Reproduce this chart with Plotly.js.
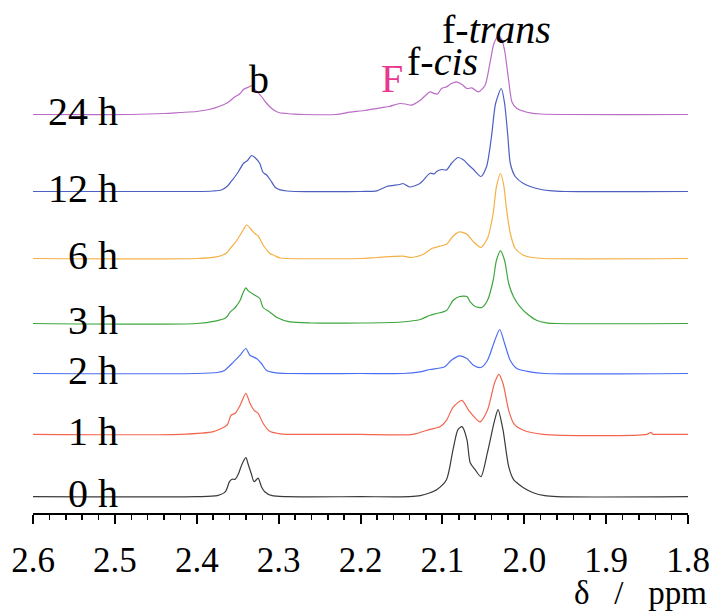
<!DOCTYPE html>
<html>
<head>
<meta charset="utf-8">
<script src="https://cdn.plot.ly/plotly-3.0.1.min.js"></script>
<style>
html,body{margin:0;padding:0;background:#fff;}
#chart svg text{font-family:"Liberation Serif","Times New Roman",Tinos,"DejaVu Serif",serif !important;}
</style>
</head>
<body>
<div id="chart" style="width:716px;height:614px;"></div>
<script>
// ---- Data (chemical shift in ppm, intensity in arbitrary units) ----
const labels = ["0 h", "1 h", "2 h", "3 h", "6 h", "12 h", "24 h"];
const offsets = [16.3, 78.7, 139.5, 189.5, 254.5, 321.5, 398.5];

const ppm0h = [2.60, 2.40, 2.375, 2.365, 2.360, 2.357, 2.353, 2.349, 2.345, 2.340, 2.337, 2.333, 2.330, 2.325, 2.321, 2.317, 2.308, 2.29, 2.20, 2.14, 2.127, 2.115, 2.107, 2.095, 2.087, 2.081, 2.076, 2.070, 2.066, 2.060, 2.053, 2.045, 2.036, 2.032, 2.026, 2.019, 2.013, 2.006, 2.001, 1.989, 1.975, 1.96, 1.80];
const int0h = [0, 0, 1, 5, 15, 17.5, 17.5, 23, 32, 39, 32, 22, 15, 18.5, 10, 5, 1, 0, 0, 0, 1, 4, 7, 17, 47, 67, 70, 57, 34, 27, 20, 44, 77, 87, 67, 30, 17, 12, 9, 4, 1, 0, 0];

const ppm1h = [2.60, 2.42, 2.380, 2.363, 2.358, 2.353, 2.347, 2.340, 2.335, 2.330, 2.325, 2.319, 2.311, 2.30, 2.29, 2.20, 2.136, 2.115, 2.103, 2.095, 2.087, 2.076, 2.068, 2.054, 2.045, 2.036, 2.031, 2.026, 2.019, 2.013, 2.001, 1.977, 1.85, 1.845, 1.843, 1.84, 1.80];
const int1h = [0, 0, 2.7, 9.3, 19.3, 21, 29, 41, 31, 24, 21, 11, 3, 0.7, 0, 0, 0, 5, 7.5, 14, 27, 34, 24, 12.5, 24, 52, 60, 51, 24, 11, 4, 0, 0, 2, 0, 0, 0];

const ppm2h = [2.60, 2.40, 2.375, 2.366, 2.362, 2.357, 2.353, 2.347, 2.340, 2.335, 2.327, 2.321, 2.315, 2.305, 2.29, 2.20, 2.148, 2.127, 2.115, 2.097, 2.089, 2.079, 2.070, 2.062, 2.053, 2.045, 2.036, 2.030, 2.024, 2.017, 2.009, 1.993, 1.975, 1.80];
const int2h = [0, 0, 1, 3, 6, 10, 13.3, 18.3, 25, 18.3, 15, 10, 3.3, 0.8, 0, 0, 0, 1.7, 4, 6.7, 13.3, 17.7, 15, 8.3, 6, 13, 33, 44, 30, 13, 5, 1.7, 0, 0];

const ppm3h = [2.60, 2.40, 2.376, 2.366, 2.363, 2.359, 2.353, 2.347, 2.343, 2.340, 2.337, 2.329, 2.323, 2.319, 2.311, 2.302, 2.286, 2.26, 2.20, 2.15, 2.127, 2.115, 2.107, 2.095, 2.087, 2.079, 2.070, 2.066, 2.060, 2.052, 2.045, 2.038, 2.034, 2.029, 2.024, 2.019, 2.013, 2.005, 1.997, 1.985, 1.973, 1.96, 1.80];
const int3h = [0, 0, 2.7, 5, 7, 11.6, 16, 23.3, 31.6, 35.6, 32.6, 28.3, 25, 16, 11.6, 6, 1.6, 0.5, 0.5, 1.5, 4, 8.3, 10, 13, 23, 27, 27, 21.6, 17, 16, 23, 43, 63, 72.6, 63, 40, 26.6, 16.6, 10, 3.3, 0.7, 0, 0];

const ppm6h = [2.60, 2.40, 2.376, 2.368, 2.363, 2.359, 2.353, 2.347, 2.343, 2.339, 2.333, 2.329, 2.325, 2.319, 2.315, 2.311, 2.304, 2.298, 2.29, 2.20, 2.18, 2.148, 2.138, 2.123, 2.113, 2.103, 2.095, 2.087, 2.079, 2.070, 2.062, 2.053, 2.045, 2.038, 2.034, 2.029, 2.025, 2.022, 2.017, 2.011, 2.001, 1.99, 1.977, 1.80];
const int6h = [0, 0, 1.7, 3.5, 6, 10.2, 15.8, 23.5, 29, 33.5, 28.5, 25, 22.5, 13.5, 9, 5.2, 2.5, 0.5, 0, 0, 1, 2.3, 1, 4.3, 10, 12.3, 14.3, 22.3, 26.6, 24.3, 16.6, 11, 20, 45, 71.6, 85, 73, 51.6, 25, 10, 3.3, 1, 0, 0];

const ppm12h = [2.60, 2.40, 2.38, 2.37, 2.363, 2.359, 2.355, 2.349, 2.343, 2.338, 2.333, 2.329, 2.323, 2.319, 2.315, 2.310, 2.304, 2.298, 2.29, 2.28, 2.20, 2.18, 2.168, 2.152, 2.148, 2.140, 2.127, 2.115, 2.110, 2.107, 2.101, 2.095, 2.089, 2.081, 2.074, 2.068, 2.062, 2.053, 2.046, 2.040, 2.035, 2.028, 2.024, 2.020, 2.017, 2.011, 2.001, 1.985, 1.969, 1.95, 1.80];
const int12h = [0, 0, 0.5, 1.5, 5, 9, 13, 20, 28, 31, 36, 34, 28, 19, 16.7, 11.5, 4, 1.6, 0.5, 0, 0, 0.7, 5, 7, 8, 4.5, 8.3, 18.3, 17.5, 20, 22, 21.5, 28, 34, 31.5, 26.5, 22, 15, 25, 55, 88, 103, 88, 55, 28, 15, 8, 3, 0.8, 0, 0];

const ppm24h = [2.60, 2.48, 2.44, 2.42, 2.40, 2.385, 2.372, 2.362, 2.355, 2.347, 2.343, 2.335, 2.333, 2.329, 2.325, 2.320, 2.316, 2.311, 2.306, 2.300, 2.29, 2.28, 2.27, 2.23, 2.213, 2.195, 2.176, 2.165, 2.152, 2.145, 2.138, 2.127, 2.115, 2.110, 2.106, 2.101, 2.095, 2.089, 2.083, 2.076, 2.070, 2.064, 2.056, 2.048, 2.042, 2.037, 2.032, 2.028, 2.024, 2.019, 2.015, 2.009, 2.000, 1.993, 1.980, 1.80];
const int24h = [0, 0, 1, 2, 3, 5, 8.3, 12, 16.7, 21, 25, 28, 29, 25, 21.7, 17, 12.5, 8, 4.5, 2, 1, 0.3, 0, 0, 2.3, 4, 6.7, 8, 11, 10.5, 9.3, 14.3, 22.6, 21, 20.5, 26, 27.6, 31, 32.6, 30, 26, 26.6, 22.6, 29, 51, 71, 78, 76, 64, 34, 12.6, 6, 3, 1.6, 0.5, 0];

const xTicks = [2.6, 2.5, 2.4, 2.3, 2.2, 2.1, 2.0, 1.9, 1.8];
const peakLabels = [
  {text: "b", x: 2.3237, y: 433.5, color: "#000"},
  {text: "F", x: 2.162, y: 435, color: "#e8388f"},
  {text: "f-<i>cis</i>", x: 2.0998, y: 451.5, color: "#000"},
  {text: "f-<i>trans</i>", x: 2.0334, y: 483.5, color: "#000"}
];

// ---- Build ----
const ppms = [ppm0h, ppm1h, ppm2h, ppm3h, ppm6h, ppm12h, ppm24h];
const ints = [int0h, int1h, int2h, int3h, int6h, int12h, int24h];
const colors = ["#3a3a3a", "#f2664f", "#4d6ef2", "#3ea63e", "#f4b145", "#4d5fc0", "#bb6cc6"];
const serif = "Times New Roman";

const traces = ppms.map((p, i) => ({
  x: p,
  y: ints[i].map(v => v + offsets[i]),
  type: "scatter",
  mode: "lines",
  line: {color: colors[i], width: 1.2, shape: "spline", smoothing: 0.7},
  hoverinfo: "skip",
  showlegend: false
}));

const annotations = labels.map((t, i) => ({
  text: t, x: 2.494, y: offsets[i], xref: "x", yref: "y",
  xanchor: "right", yanchor: "middle", yshift: 3, showarrow: false,
  font: {family: serif, size: 40, color: "#000"}
}));
peakLabels.forEach(l => annotations.push({
  text: l.text, x: l.x, y: l.y, xref: "x", yref: "y",
  xanchor: "center", yanchor: "middle", showarrow: false,
  font: {family: serif, size: 40, color: l.color}
}));
annotations.push({
  text: "&#948;&nbsp;&nbsp;&nbsp;/&nbsp;&nbsp;&nbsp;ppm", xref: "paper", yref: "paper",
  x: 1.032, y: -0.156, xanchor: "right", yanchor: "middle", showarrow: false,
  font: {family: serif, size: 33, color: "#000"}
});

const layout = {
  width: 716, height: 614,
  margin: {l: 33, r: 28, t: 0, b: 101, pad: 0},
  paper_bgcolor: "#fff", plot_bgcolor: "#fff",
  showlegend: false,
  xaxis: {
    range: [2.6, 1.8], tickmode: "array", tickvals: xTicks,
    ticktext: xTicks.map(v => v.toFixed(1)),
    ticks: "outside", ticklen: 9, tickwidth: 2, tickcolor: "#000",
    ticklabelstandoff: 6,
    showline: true, linecolor: "#000", linewidth: 2,
    showgrid: false, zeroline: false,
    tickfont: {family: serif, size: 35, color: "#000"},
    minor: {dtick: 0.02, tick0: 1.8, ticks: "outside", ticklen: 5, tickwidth: 1.5, tickcolor: "#000", showgrid: false},
    fixedrange: true
  },
  yaxis: {visible: false, range: [0, 513], fixedrange: true},
  annotations: annotations
};

Plotly.newPlot("chart", traces, layout, {displayModeBar: false, staticPlot: true});
</script>
</body>
</html>
